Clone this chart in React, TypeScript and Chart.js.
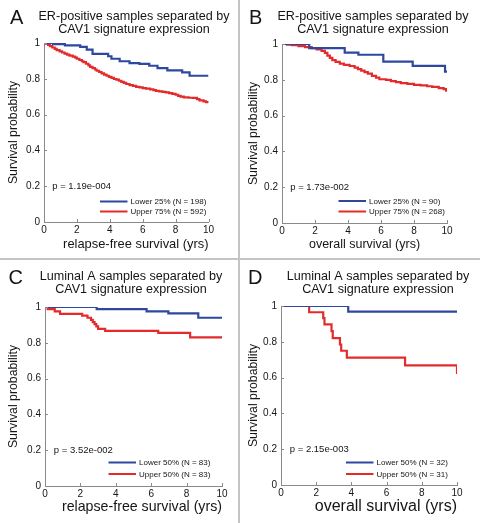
import React, { useEffect, useRef } from 'react';
import { Chart, registerables } from 'chart.js';

Chart.register(...registerables);

// ---------- data ----------
const xTicks = [0, 2, 4, 6, 8, 10];
const yTicks = [0, 0.2, 0.4, 0.6, 0.8, 1];
const yTickLabels = ['0', '0.2', '0.4', '0.6', '0.8', '1'];

// Panel A: ER-positive, relapse-free survival
const aLowerT = [0, 0.55, 1.27, 2.2, 2.6, 2.95, 3.9, 4.1, 4.6, 5.2, 5.8, 6.4, 6.9, 7.5, 8.4, 8.85, 10];
const aLowerS = [1, 0.994, 0.987, 0.978, 0.963, 0.939, 0.926, 0.912, 0.898, 0.888, 0.883, 0.873, 0.86, 0.847, 0.836, 0.817, 0.817];
const aUpperT = [0, 0.1, 0.25, 0.36, 0.5, 0.65, 0.77, 0.95, 1.1, 1.25, 1.4, 1.55, 1.75, 1.9, 2.0, 2.15, 2.3, 2.4, 2.55, 2.7, 2.8, 2.95, 3.1, 3.2, 3.35, 3.5, 3.65, 3.8, 3.95, 4.1, 4.25, 4.4, 4.55, 4.7, 4.85, 5.0, 5.2, 5.4, 5.6, 5.8, 6.0, 6.2, 6.45, 6.65, 6.8, 7.0, 7.2, 7.4, 7.6, 7.8, 8.0, 8.15, 8.3, 8.5, 8.8, 9.05, 9.3, 9.45, 9.7, 9.85, 10];
const aUpperS = [1, 0.996, 0.99, 0.982, 0.975, 0.967, 0.96, 0.953, 0.947, 0.941, 0.935, 0.93, 0.924, 0.918, 0.912, 0.905, 0.898, 0.893, 0.884, 0.875, 0.867, 0.86, 0.852, 0.845, 0.838, 0.83, 0.823, 0.817, 0.811, 0.805, 0.799, 0.795, 0.789, 0.783, 0.777, 0.771, 0.765, 0.76, 0.755, 0.752, 0.748, 0.745, 0.741, 0.737, 0.733, 0.73, 0.727, 0.724, 0.72, 0.716, 0.711, 0.705, 0.7, 0.696, 0.694, 0.693, 0.686, 0.679, 0.674, 0.67, 0.668];

// Panel B: ER-positive, overall survival
const bLowerT = [0, 1.65, 3.8, 4.63, 6.14, 7.92, 9.88, 10];
const bLowerS = [1, 0.977, 0.952, 0.94, 0.902, 0.878, 0.846, 0.846];
const bUpperT = [0, 0.3, 0.6, 1.0, 1.4, 1.8, 2.1, 2.4, 2.6, 2.75, 2.9, 3.05, 3.25, 3.5, 3.75, 4.1, 4.4, 4.6, 4.8, 5.0, 5.2, 5.45, 5.7, 5.9, 6.3, 6.6, 6.9, 7.2, 7.6, 8.0, 8.4, 8.8, 9.1, 9.5, 9.8, 9.95, 10];
const bUpperS = [1, 0.997, 0.993, 0.988, 0.982, 0.977, 0.97, 0.962, 0.95, 0.935, 0.922, 0.91, 0.9, 0.89, 0.883, 0.877, 0.868, 0.86, 0.851, 0.843, 0.834, 0.822, 0.812, 0.803, 0.8, 0.793, 0.787, 0.781, 0.777, 0.772, 0.769, 0.764, 0.76, 0.754, 0.748, 0.74, 0.74];

// Panel C: Luminal A, relapse-free survival
const cLowerT = [0, 2.92, 5.74, 6.97, 8.66, 10];
const cLowerS = [1, 0.988, 0.976, 0.964, 0.94, 0.94];
const cUpperT = [0, 0.15, 0.55, 0.85, 2.1, 2.4, 2.6, 2.7, 2.8, 2.9, 3.0, 3.4, 6.4, 8.2, 10];
const cUpperS = [1, 0.988, 0.976, 0.962, 0.952, 0.94, 0.928, 0.916, 0.904, 0.892, 0.878, 0.867, 0.855, 0.83, 0.83];

// Panel D: Luminal A, overall survival
const dLowerT = [0, 3.82, 10];
const dLowerS = [1, 0.969, 0.969];
const dUpperT = [0, 1.6, 2.4, 2.47, 2.87, 2.94, 3.35, 3.42, 3.74, 7.05, 10];
const dUpperS = [1, 0.965, 0.932, 0.897, 0.86, 0.82, 0.785, 0.75, 0.712, 0.668, 0.62];

const letters = ['A', 'B', 'C', 'D'];
const titlesLine1 = ['ER-positive samples separated by', 'ER-positive samples separated by', 'Luminal A samples separated by', 'Luminal A samples separated by'];
const titleLine2 = 'CAV1 signature expression';
const xTitles = ['relapse-free survival (yrs)', 'overall survival (yrs)', 'relapse-free survival (yrs)', 'overall survival (yrs)'];
const yTitle = 'Survival probability';
const pValues = ['p = 1.19e-004', 'p = 1.73e-002', 'p = 3.52e-002', 'p = 2.15e-003'];
const lowerLabels = ['Lower 25% (N = 198)', 'Lower 25% (N = 90)', 'Lower 50% (N = 83)', 'Lower 50% (N = 32)'];
const upperLabels = ['Upper 75% (N = 592)', 'Upper 75% (N = 268)', 'Upper 50% (N = 83)', 'Upper 50% (N = 31)'];

// ---------- styles / layout ----------
const FONT = '"Liberation Sans", Arial, Helvetica, sans-serif';
const BLUE = '#2d489e';
const RED = '#e32b2b';
const AXIS = '#8a8a8a';
const TEXT = '#151515';

type Geo = {
  x: number; y: number; w: number; h: number;
  left: number; right: number; top: number; bottom: number;
  xTitleSize: number; xTitleAlign: 'start' | 'center' | 'end'; xTitlePad: number;
  letterX: number; titleCx: number;
  legX: number; legY1: number; legY2: number;
};

const geos: Geo[] = [
  { x: 0, y: 0, w: 238, h: 258, left: 44, right: 208.5, top: 43, bottom: 222, xTitleSize: 12.9, xTitleAlign: 'end', xTitlePad: 6, letterX: 10, titleCx: 134, legX: 100, legY1: 201.5, legY2: 211.5 },
  { x: 240, y: 0, w: 240, h: 258, left: 42, right: 207, top: 44, bottom: 223, xTitleSize: 12.5, xTitleAlign: 'center', xTitlePad: 6, letterX: 9, titleCx: 133, legX: 98.5, legY1: 201, legY2: 211.5 },
  { x: 0, y: 260, w: 238, h: 263, left: 45, right: 222, top: 47, bottom: 226, xTitleSize: 14.2, xTitleAlign: 'end', xTitlePad: 7, letterX: 8.5, titleCx: 131, legX: 108.5, legY1: 202.5, legY2: 214 },
  { x: 240, y: 260, w: 240, h: 263, left: 41, right: 217, top: 46, bottom: 225, xTitleSize: 16, xTitleAlign: 'end', xTitlePad: 7, letterX: 8, titleCx: 138, legX: 106, legY1: 202.5, legY2: 214 },
];

const seriesT = [[aLowerT, aUpperT], [bLowerT, bUpperT], [cLowerT, cUpperT], [dLowerT, dUpperT]];
const seriesS = [[aLowerS, aUpperS], [bLowerS, bUpperS], [cLowerS, cUpperS], [dLowerS, dUpperS]];

const toPoints = (t: number[], s: number[]) => t.map((v, i) => ({ x: v, y: s[i] }));

const decorPlugin = {
  id: 'decor',
  afterDraw(chart: any, _args: any, opts: any) {
    const { ctx, chartArea, scales } = chart;
    const xs = scales.x;
    const ys = scales.y;
    const i: number = opts.index;
    const g = geos[i];
    ctx.save();
    // inward tick marks
    ctx.strokeStyle = AXIS;
    ctx.lineWidth = 1;
    ctx.beginPath();
    xTicks.forEach((v) => {
      const px = Math.round(xs.getPixelForValue(v)) + 0.5;
      ctx.moveTo(px, chartArea.bottom);
      ctx.lineTo(px, chartArea.bottom - 3);
    });
    yTicks.forEach((v) => {
      const py = Math.round(ys.getPixelForValue(v)) + 0.5;
      ctx.moveTo(chartArea.left, py);
      ctx.lineTo(chartArea.left + 3, py);
    });
    ctx.stroke();

    ctx.fillStyle = TEXT;
    // panel letter
    ctx.font = `20px ${FONT}`;
    ctx.textAlign = 'left';
    ctx.textBaseline = 'alphabetic';
    ctx.fillText(letters[i], g.letterX, 23.5);
    // title
    ctx.font = `12.6px ${FONT}`;
    ctx.textAlign = 'center';
    ctx.fillText(titlesLine1[i], g.titleCx, 19.5);
    ctx.fillText(titleLine2, g.titleCx, 32.5);
    // p value at data coords (0.5, 0.2)
    ctx.font = `9.5px ${FONT}`;
    ctx.textAlign = 'left';
    ctx.textBaseline = 'middle';
    ctx.fillText(pValues[i], xs.getPixelForValue(0.5), ys.getPixelForValue(0.2));
    // legend
    const ds = chart.data.datasets;
    const rows = [g.legY1, g.legY2];
    ctx.font = `8px ${FONT}`;
    ds.forEach((d: any, k: number) => {
      ctx.strokeStyle = d.borderColor;
      ctx.lineWidth = 2;
      ctx.beginPath();
      ctx.moveTo(g.legX, rows[k]);
      ctx.lineTo(g.legX + 27.5, rows[k]);
      ctx.stroke();
      ctx.fillStyle = TEXT;
      ctx.fillText(d.label, g.legX + 30.5, rows[k] + 0.5);
    });
    ctx.restore();
  },
};

function Panel({ index }: { index: number }) {
  const ref = useRef<HTMLCanvasElement>(null);
  const g = geos[index];
  useEffect(() => {
    const canvas = ref.current;
    if (!canvas) return;
    const chart = new Chart(canvas, {
      type: 'line',
      data: {
        datasets: [
          {
            label: lowerLabels[index],
            data: toPoints(seriesT[index][0], seriesS[index][0]),
            borderColor: BLUE,
            backgroundColor: BLUE,
            borderWidth: 2.2,
            pointRadius: 0,
            stepped: 'before',
            fill: false,
          },
          {
            label: upperLabels[index],
            data: toPoints(seriesT[index][1], seriesS[index][1]),
            borderColor: RED,
            backgroundColor: RED,
            borderWidth: 2.2,
            pointRadius: 0,
            stepped: 'before',
            fill: false,
          },
        ],
      },
      options: {
        animation: false,
        responsive: false,
        maintainAspectRatio: false,
        devicePixelRatio: 1,
        layout: { padding: { left: 0, top: g.top, right: g.w - g.right, bottom: 0 } },
        plugins: {
          legend: { display: false },
          tooltip: { enabled: false },
          title: { display: false },
          decor: { index },
        } as any,
        scales: {
          x: {
            type: 'linear',
            min: 0,
            max: 10,
            afterFit: (s: any) => { s.height = g.h - g.bottom; },
            afterBuildTicks: (s: any) => { s.ticks = xTicks.map((v) => ({ value: v })); },
            ticks: { font: { size: 10, family: FONT }, color: TEXT, padding: 2, maxRotation: 0, autoSkip: false },
            grid: { display: true, drawOnChartArea: false, drawTicks: false, color: AXIS },
            border: { display: true, color: AXIS, width: 1 },
            title: { display: true, text: xTitles[index], align: g.xTitleAlign, color: TEXT, font: { size: g.xTitleSize, family: FONT }, padding: { top: 0, bottom: g.xTitlePad } },
          },
          y: {
            type: 'linear',
            min: 0,
            max: 1,
            afterFit: (s: any) => { s.width = g.left; },
            afterBuildTicks: (s: any) => { s.ticks = yTicks.map((v) => ({ value: v })); },
            ticks: {
              font: { size: 10, family: FONT },
              color: TEXT,
              padding: 4,
              autoSkip: false,
              callback: (_v: any, idx: number) => yTickLabels[idx],
            },
            grid: { display: true, drawOnChartArea: false, drawTicks: false, color: AXIS },
            border: { display: true, color: AXIS, width: 1 },
            title: { display: true, text: yTitle, color: TEXT, font: { size: 12.3, family: FONT }, padding: { top: 6, bottom: 0 } },
          },
        },
      },
      plugins: [decorPlugin],
    });
    return () => chart.destroy();
  }, [index]);
  return (
    <canvas
      ref={ref}
      width={g.w}
      height={g.h}
      style={{ position: 'absolute', left: g.x, top: g.y, width: g.w, height: g.h }}
    />
  );
}

export default function App() {
  return (
    <div style={{ position: 'absolute', left: 0, top: 0, width: 480, height: 523, background: '#fff', overflow: 'hidden' }}>
      {[0, 1, 2, 3].map((i) => <Panel key={i} index={i} />)}
      <div style={{ position: 'absolute', left: 238, top: 0, width: 1.5, height: 523, background: '#c4c4c4' }} />
      <div style={{ position: 'absolute', left: 0, top: 258, width: 480, height: 1.5, background: '#c4c4c4' }} />
    </div>
  );
}
